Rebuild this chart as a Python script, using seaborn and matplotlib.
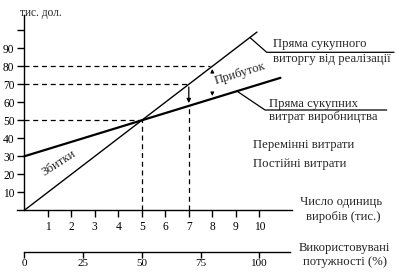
import matplotlib
matplotlib.use("Agg")
import matplotlib.pyplot as plt
import seaborn as sns
import pandas as pd
from matplotlib.lines import Line2D

# ---- data ----
units_rev = [0, 9.9]
revenue = [0, 99]
units_cost = [0, 10.9]
cost = [30, 73.6]
x_ticks = [1, 2, 3, 4, 5, 6, 7, 8, 9, 10]
y_ticks = [10, 20, 30, 40, 50, 60, 70, 80, 90, 100]
y_labels = ["10", "20", "30", "40", "50", "60", "70", "80", "90", ""]
pct_ticks = [0, 25, 50, 75, 100]
breakeven_units = 5
breakeven_value = 50
profit_units = 7
profit_rev = 70
profit_cost = 58
target_rev = 80
mark_units = 8

sns.set_theme(style="white")
plt.rcParams['font.family'] = ['Liberation Serif', 'DejaVu Serif']

W, H = 396, 272
fig = plt.figure(figsize=(W / 100, H / 100), dpi=100)

def fx(x):
    return x / W

def fy(y):
    return 1 - y / H

# main axes: pixel x = 24.3 + 23.5*u ; pixel y = 210.3 - 1.8*v
x0, x1 = -0.3, 11.4
y0, y1 = 0, 108.5
left_px = 24.3 + 23.5 * x0
right_px = 24.3 + 23.5 * x1
top_px = 210.3 - 1.8 * y1
bot_px = 210.3
ax = fig.add_axes([fx(left_px), fy(bot_px), (right_px - left_px) / W, (bot_px - top_px) / H])
ax.set_facecolor("none")
ax.set_xlim(x0, x1)
ax.set_ylim(y0, y1)

df_rev = pd.DataFrame({"u": units_rev, "v": revenue})
df_cost = pd.DataFrame({"u": units_cost, "v": cost})
sns.lineplot(data=df_rev, x="u", y="v", ax=ax, color="black", lw=1.0)
sns.lineplot(data=df_cost, x="u", y="v", ax=ax, color="black", lw=1.6)

dash = dict(color="black", lw=0.9, ls=(0, (4, 3)))
ax.plot([0, mark_units - 0.1], [target_rev, target_rev], **dash)
ax.plot([0, profit_units], [profit_rev, profit_rev], **dash)
ax.plot([0, breakeven_units], [breakeven_value, breakeven_value], **dash)
ax.plot([breakeven_units, breakeven_units], [0, breakeven_value], **dash)
ax.plot([profit_units, profit_units], [0, profit_cost], **dash)

ax.annotate("", xy=(profit_units, profit_cost), xytext=(profit_units, profit_rev),
            arrowprops=dict(arrowstyle="-|>", color="black", lw=0.9, mutation_scale=6))
# small marks at x=8
rev8 = mark_units * 10
cost8 = 30 + 4 * mark_units
ax.annotate("", xy=(mark_units, rev8 - 1.5), xytext=(mark_units, rev8 - 4.5),
            arrowprops=dict(arrowstyle="-|>", color="black", lw=0.8, mutation_scale=5))
ax.annotate("", xy=(mark_units, cost8 + 1.5), xytext=(mark_units, cost8 + 4.5),
            arrowprops=dict(arrowstyle="-|>", color="black", lw=0.8, mutation_scale=5))

for s in ["top", "right"]:
    ax.spines[s].set_visible(False)
ax.spines["left"].set_position(("data", 0))
for s in ["left", "bottom"]:
    ax.spines[s].set_color("black")
    ax.spines[s].set_linewidth(1.0)

ax.set_xticks(x_ticks)
ax.set_xticklabels([str(t) for t in x_ticks])
ax.set_yticks(y_ticks)
ax.set_yticklabels(y_labels)
ax.tick_params(axis="x", bottom=True, direction="out", length=4.7, width=1, pad=3, labelsize=8.3, colors="black")
ax.tick_params(axis="y", left=True, direction="out", length=5, width=1, pad=2, labelsize=8.3, colors="black")
ax.set_xlabel("")
ax.set_ylabel("")

# second axis (capacity %)
ax2_left = 24.3
ax2_right = 290
ax2 = fig.add_axes([fx(ax2_left), fy(252.3), (ax2_right - ax2_left) / W, 0.001])
ax2.set_facecolor("none")
ax2.set_xlim(0, (ax2_right - ax2_left) / 23.5 * 10)
ax2.set_yticks([])
for s in ["top", "right", "left"]:
    ax2.spines[s].set_visible(False)
ax2.spines["bottom"].set_color("black")
ax2.spines["bottom"].set_linewidth(1.0)
ax2.set_xticks(pct_ticks)
ax2.set_xticklabels([str(t) for t in pct_ticks])
ax2.tick_params(axis="x", bottom=True, direction="out", length=4.0, width=1, pad=0.8, labelsize=8.0, colors="black")

fs = 9.2
# texts
fig.text(fx(20), fy(13), "тис. дол.", fontsize=8.3, va="center", ha="left")
ax.text(1.45, 26.1, "Збитки", fontsize=fs, rotation=33, ha="center", va="center", rotation_mode="anchor")
ax.text(9.18, 75.7, "Прибуток", fontsize=fs, rotation=17, ha="center", va="center", rotation_mode="anchor")
fig.text(fx(253), fy(145), "Перемінні витрати", fontsize=fs, va="center", ha="left")
fig.text(fx(253), fy(164), "Постійні витрати", fontsize=fs, va="center", ha="left")
fig.text(fx(341), fy(202), "Число одиниць", fontsize=fs, va="center", ha="center")
fig.text(fx(343), fy(217), "виробів (тис.)", fontsize=fs, va="center", ha="center")
fig.text(fx(344), fy(248), "Використовувані", fontsize=fs, va="center", ha="center")
fig.text(fx(345), fy(262), "потужності (%)", fontsize=fs, va="center", ha="center")

fig.text(fx(273), fy(44), "Пряма сукупного", fontsize=fs, va="center", ha="left")
fig.text(fx(273), fy(59), "виторгу від реалізації", fontsize=fs, va="center", ha="left")
fig.text(fx(269), fy(104), "Пряма сукупних", fontsize=fs, va="center", ha="left")
fig.text(fx(269), fy(117), "витрат виробництва", fontsize=fs, va="center", ha="left")

# leader lines (pixel space)
def px_of(u, v):
    return 24.3 + 23.5 * u, 210.3 - 1.8 * v

sx, sy = px_of(9.6, 96)
fig.add_artist(Line2D([fx(sx), fx(266.7), fx(394)], [fy(sy), fy(52.3), fy(52.3)], color="black", lw=0.9))
sx, sy = px_of(9.05, 30 + 4 * 9.05)
fig.add_artist(Line2D([fx(sx), fx(265), fx(386.7)], [fy(sy), fy(110), fy(110)], color="black", lw=0.9))

fig.savefig("out.png", dpi=100)
